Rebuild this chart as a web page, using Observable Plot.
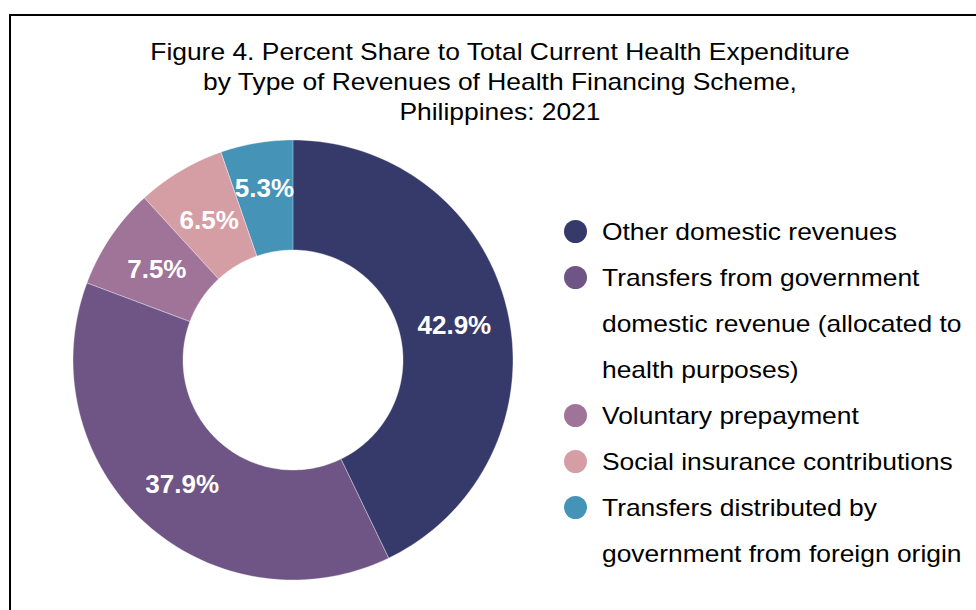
<!DOCTYPE html>
<html>
<head>
<meta charset="utf-8">
<script src="https://cdn.jsdelivr.net/npm/d3@7"></script>
<script src="https://cdn.jsdelivr.net/npm/@observablehq/plot@0.6"></script>
<style>
  html, body { margin: 0; padding: 0; width: 976px; height: 610px; overflow: hidden; background: #fff; }
  body { position: relative; font-family: "Liberation Sans", Arial, sans-serif; }
  #frame { position: absolute; left: 9px; top: 14px; width: 1100px; height: 800px; border: 2px solid #000; box-sizing: border-box; }
  #chart { position: absolute; left: 0; top: 0; }
  #title { position: absolute; left: 150px; width: 700px; top: 37px; text-align: center; font-size: 24px; line-height: 30px; color: #000; white-space: nowrap; }
  #title div { transform: scaleX(1.1); transform-origin: 50% 50%; }
  #legend { position: absolute; left: 560px; top: 209px; font-size: 24px; line-height: 46px; color: #000; }
  .row { position: relative; padding-left: 42px; white-space: nowrap; }
  .row div { transform: scaleX(1.1); transform-origin: 0 50%; }
  .dot { position: absolute; left: 3.5px; top: 10.5px; width: 23px; height: 23px; border-radius: 50%; }
</style>
</head>
<body>
<div id="frame"></div>
<div id="chart"></div>
<div id="title"></div>
<div id="legend"></div>
<script>
const titleLines = [
  "Figure 4. Percent Share to Total Current Health Expenditure",
  "by Type of Revenues of Health Financing Scheme,",
  "Philippines: 2021"
];
const categories = [
  "Other domestic revenues",
  "Transfers from government domestic revenue (allocated to health purposes)",
  "Voluntary prepayment",
  "Social insurance contributions",
  "Transfers distributed by government from foreign origin"
];
const legendLines = [
  ["Other domestic revenues"],
  ["Transfers from government", "domestic revenue (allocated to", "health purposes)"],
  ["Voluntary prepayment"],
  ["Social insurance contributions"],
  ["Transfers distributed by", "government from foreign origin"]
];
const shares = [42.9, 37.9, 7.5, 6.5, 5.3];
const colors = ["#363a6b", "#6e5585", "#a07398", "#d59ea4", "#4693b8"];

// layout constants
const W = 976, H = 610, CX = 293, CY = 360, R_OUT = 220, R_IN = 110;
const LABEL_R = [165, 165, 165, 165, 176];

// title
const t = document.getElementById("title");
titleLines.forEach(s => { const d = document.createElement("div"); d.textContent = s; t.appendChild(d); });

// legend
const lg = document.getElementById("legend");
legendLines.forEach((lines, i) => {
  const row = document.createElement("div");
  row.className = "row";
  const dot = document.createElement("span");
  dot.className = "dot";
  dot.style.background = colors[i];
  row.appendChild(dot);
  lines.forEach(l => { const d = document.createElement("div"); d.textContent = l; row.appendChild(d); });
  lg.appendChild(row);
});

// donut geometry derived from the data
const pie = d3.pie().sort(null).value(d => d)(shares);
const ringPts = [];
pie.forEach((p, i) => {
  const n = 90;
  for (let k = 0; k <= n; k++) {
    const a = p.startAngle + (p.endAngle - p.startAngle) * k / n;
    ringPts.push({
      cat: categories[i],
      x1: R_OUT * Math.sin(a), y1: R_OUT * Math.cos(a),
      x2: R_IN * Math.sin(a), y2: R_IN * Math.cos(a)
    });
  }
});
const labelPts = pie.map((p, i) => {
  const a = (p.startAngle + p.endAngle) / 2;
  const r = LABEL_R[i];
  return { x: r * Math.sin(a), y: r * Math.cos(a), text: shares[i].toFixed(1) + "%" };
});

const plot = Plot.plot({
  width: W, height: H,
  marginTop: 0, marginRight: 0, marginBottom: 0, marginLeft: 0,
  x: { domain: [-CX, W - CX], axis: null },
  y: { domain: [-(H - CY), CY], axis: null },
  color: { domain: categories, range: colors },
  style: { background: "transparent", fontFamily: "Liberation Sans, Arial, sans-serif" },
  marks: [
    Plot.area(ringPts, { x1: "x1", y1: "y1", x2: "x2", y2: "y2", z: "cat", fill: "cat", stroke: "white", strokeWidth: 0.6, strokeOpacity: 0.6 }),
    Plot.text(labelPts, { x: "x", y: "y", text: "text", fill: "white", fontSize: 26, fontWeight: "bold", dy: 2 })
  ]
});
document.getElementById("chart").appendChild(plot);
</script>
</body>
</html>
